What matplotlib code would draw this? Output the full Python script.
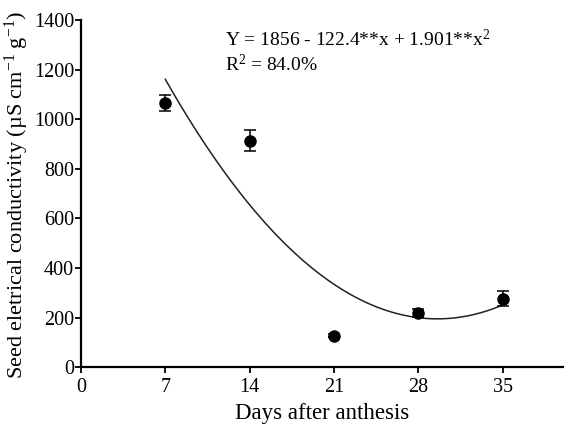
import matplotlib
matplotlib.use('Agg')
import matplotlib.pyplot as plt
import numpy as np

plt.rcParams['font.family'] = ['Liberation Serif', 'DejaVu Serif']
plt.rcParams['mathtext.fontset'] = 'custom'
plt.rcParams['mathtext.rm'] = 'Liberation Serif'
plt.rcParams['mathtext.it'] = 'Liberation Serif:italic'

# data
days = [7, 14, 21, 28, 35]
conductivity = [1068, 914, 126, 217, 276]
errors = [32, 42, 6, 16, 31]

# fitted curve coefficients (as drawn)
fit_c0 = 1856
fit_c1 = -112.4
fit_c2 = 1.901

xticks = [0, 7, 14, 21, 28, 35]
yticks = [0, 200, 400, 600, 800, 1000, 1200, 1400]

fig = plt.figure(figsize=(5.74, 4.33), dpi=100)
ax = fig.add_axes([0.141, 0.1524, 0.84, 0.8003])

xs = np.linspace(days[0], days[-1], 200)
ax.plot(xs, fit_c0 + fit_c1 * xs + fit_c2 * xs ** 2, color='#222222', lw=1.1)
ax.errorbar(days, conductivity, yerr=errors, fmt='o', color='black',
            markersize=8, capsize=4, elinewidth=1.1, capthick=1.1)

ax.set_xlim(0, 40)
ax.set_ylim(0, 1400)
ax.set_xticks(xticks)
ax.set_yticks(yticks)
for s in ['top', 'right']:
    ax.spines[s].set_visible(False)
for s in ['left', 'bottom']:
    ax.spines[s].set_linewidth(1.6)
ax.tick_params(width=1.3, length=4, labelsize=14.5)
ax.tick_params(axis='x', pad=4)
ax.tick_params(axis='y', pad=1)

ax.set_xlabel('Days after anthesis', fontsize=16.5, labelpad=4)
ax.set_ylabel(r'Seed eletrical conductivity (µS cm$^{-1}$ g$^{-1}$)', fontsize=16)
ax.yaxis.set_label_coords(-0.103, 0.495)

ax.text(0.298, 0.944, r'Y = 1856 - 122.4**x + 1.901**x$^{2}$', transform=ax.transAxes,
        fontsize=14, va='center')
ax.text(0.298, 0.872, r'R$^{2}$ = 84.0%', transform=ax.transAxes,
        fontsize=14, va='center')

fig.savefig('out.png', dpi=100)
